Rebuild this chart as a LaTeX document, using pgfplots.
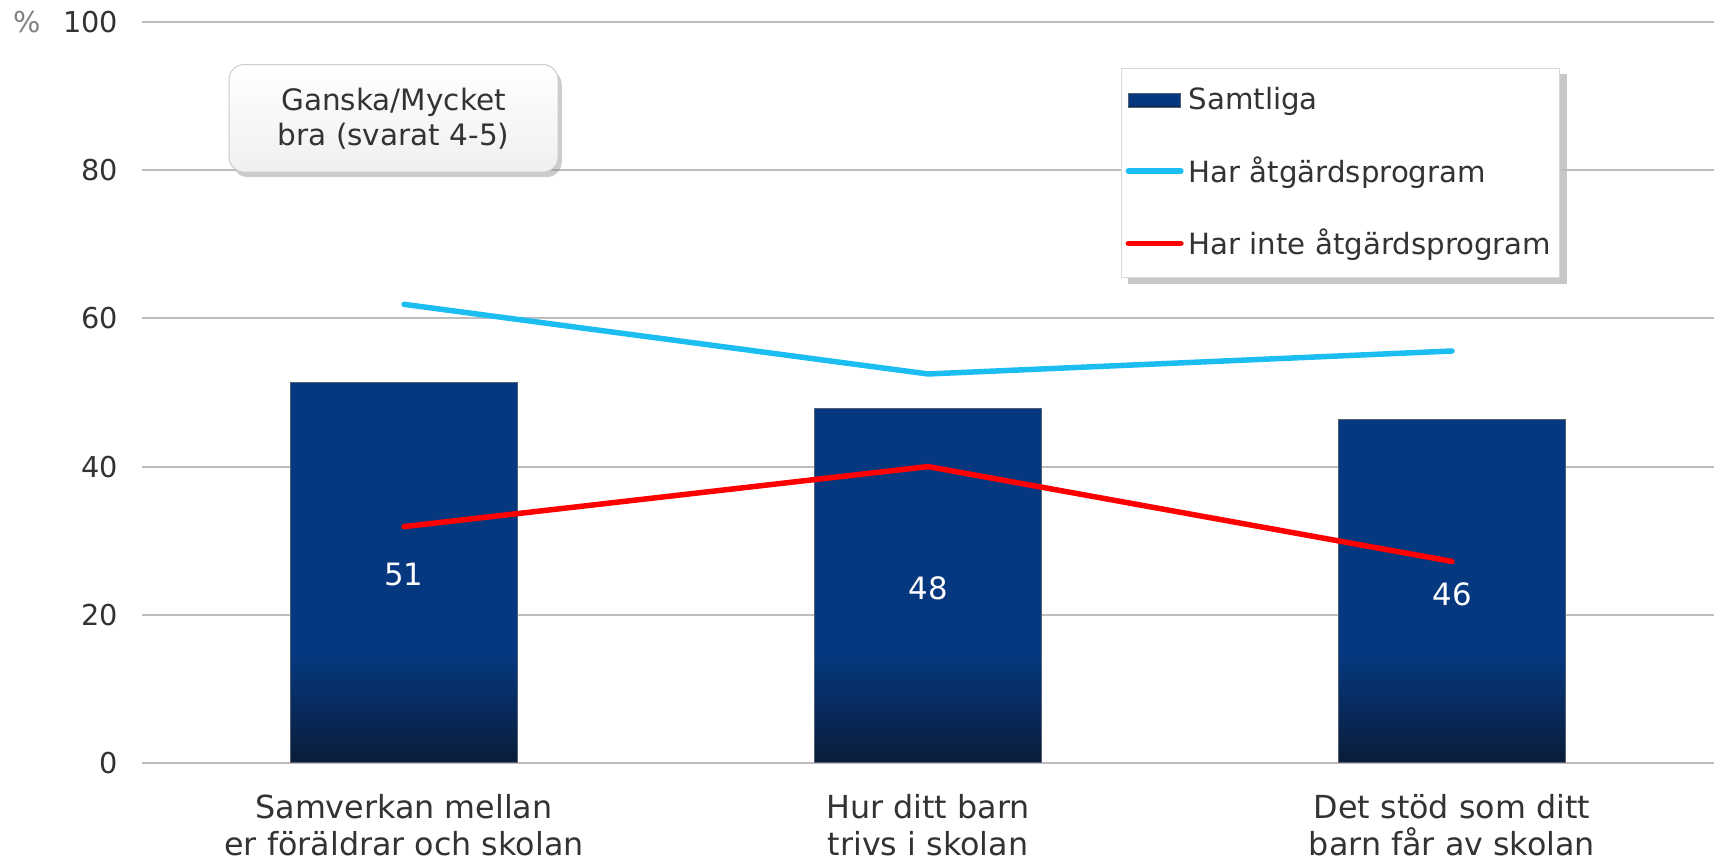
\documentclass[border=0pt]{standalone}
\usepackage{pgfplots}
\pgfplotsset{compat=1.18}
\usepackage{fontspec}
\setmainfont{DejaVu Sans}
\usetikzlibrary{shadows,backgrounds}
\definecolor{txt}{HTML}{333333}
\definecolor{gridc}{HTML}{BEBEBE}
\definecolor{barA}{HTML}{06387F}
\definecolor{barB}{HTML}{0A1C38}
\definecolor{lblue}{HTML}{1CBEF2}
\definecolor{lred}{HTML}{FF0000}
\pgfdeclareverticalshading{barshade}{100bp}{color(0bp)=(barB); color(25bp)=(barB); color(39bp)=(barA); color(100bp)=(barA)}
\pgfplotsset{
  lineleg/.style={legend image code/.code={\draw[##1] (0pt,0pt) -- (21pt,0pt);}},
  barleg/.style={legend image code/.code={\fill[shading=barshade] (0pt,-2.9pt) rectangle (21pt,2.9pt);}},
}
\begin{document}
\begin{tikzpicture}
\useasboundingbox (-56.8pt,-39.2pt) rectangle (630pt,305.2pt);
\begin{axis}[
  scale only axis, width=628.8pt, height=296.4pt,
  xmin=-0.5, xmax=2.5, ymin=0, ymax=100,
  axis lines*=left,
  y axis line style={draw=none},
  x axis line style={gridc, line width=0.8pt},
  ytick={0,20,...,100},
  ymajorgrids, grid style={gridc, line width=0.8pt},
  major tick length=0pt,
  xtick={0,1,2},
  xticklabels={{Samverkan mellan\\er föräldrar och skolan},{Hur ditt barn\\trivs i skolan},{Det stöd som ditt\\barn får av skolan}},
  yticklabel style={font=\fontsize{11.5}{13}\selectfont, text=txt, xshift=-6pt},
  xticklabel style={font=\fontsize{12.7}{14.8}\selectfont, text=txt, align=center, yshift=-9pt},
  /pgf/number format/assume math mode=true,
  clip=false,
  legend cell align=left,
  legend style={name=leg, at={(rel axis cs:0.623,0.938)}, anchor=north west,
    draw=gray!30, fill=white,
    font=\fontsize{11.7}{13}\selectfont, text=txt,
    row sep=13.1pt, inner xsep=1.5pt, inner ysep=5.7pt},
]
\addplot[ybar, bar width=90.8pt, draw=barB!70, line width=0.4pt, shading=barshade, barleg]
  coordinates {(0,51.3) (1,47.8) (2,46.3)};
\addlegendentry{\makebox[145pt][l]{Samtliga}}
\addplot[draw=none, forget plot, nodes near coords, point meta=explicit symbolic,
  nodes near coords style={text=white, font=\fontsize{12.3}{13}\selectfont, anchor=center}]
  coordinates {(0,25.5)[51] (1,23.6)[48] (2,22.7)[46]};
\addplot[lblue, line width=2.2pt, line cap=round, line join=round, lineleg]
  coordinates {(0,61.9) (1,52.5) (2,55.6)};
\addlegendentry{\makebox[145pt][l]{Har åtgärdsprogram}}
\addplot[lred, line width=2.2pt, line cap=round, line join=round, lineleg]
  coordinates {(0,31.9) (1,40.0) (2,27.2)};
\addlegendentry{\makebox[145pt][l]{Har inte åtgärdsprogram}}
\node[text=gray, font=\fontsize{11.5}{13}\selectfont] at ([xshift=-46pt]axis cs:-0.5,100) {\%};
\node[draw=gray!40, rounded corners=6pt, top color=white, bottom color=gray!12,
  drop shadow={opacity=0.4, shadow xshift=1.5pt, shadow yshift=-2pt},
  minimum width=131.6pt, minimum height=43pt, align=center,
  font=\fontsize{11.8}{14}\selectfont, text=txt] at (axis cs:-0.02,87) {Ganska/Mycket\\bra (svarat 4-5)};
\end{axis}
\begin{scope}[on background layer]
\fill[black, opacity=0.22] ([shift={(2.5pt,-2.5pt)}]leg.south west) rectangle ([shift={(2.5pt,-2.5pt)}]leg.north east);
\end{scope}
\end{tikzpicture}
\end{document}
